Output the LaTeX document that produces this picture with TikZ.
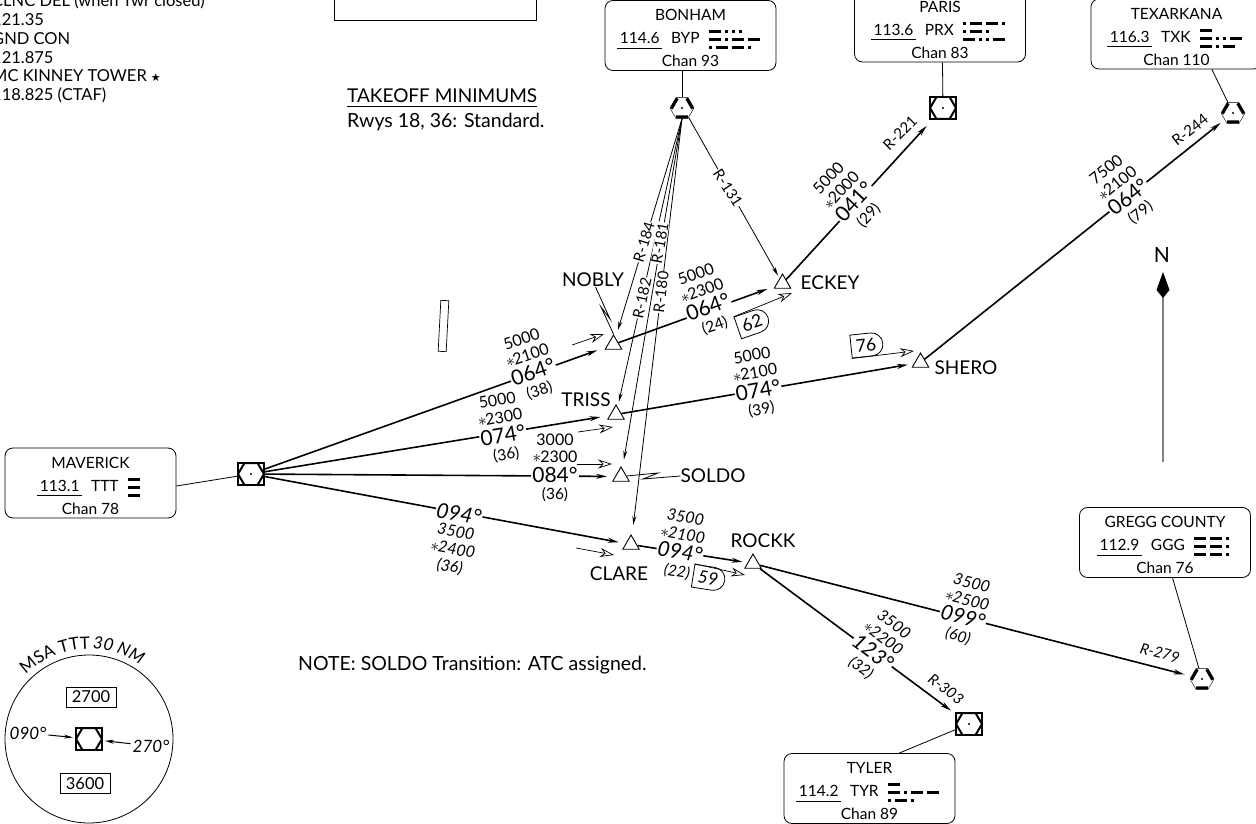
\documentclass[tikz,border=0pt]{standalone}
\usepackage{fontspec}
\setmainfont{Lato}
\newfontfamily\symfont{DejaVu Sans}
\usetikzlibrary{arrows.meta,shapes.geometric,shapes.misc,decorations.text}

% morse marks for the navaid boxes
\newcommand\dit{\rule{3pt}{3pt}\kern4pt}
\newcommand\dah{\rule{12pt}{3pt}\kern4pt}
\newcommand\morse[3]{\raisebox{-5.5pt}[0pt][0pt]{\vbox{\offinterlineskip\hbox{#1}\vskip5pt\hbox{#2}\vskip5pt\hbox{#3}}}}
\newcommand\freq[1]{\underline{\rule[-2.5pt]{0pt}{1pt}\,#1\,}}
\newcommand\navtext[5]{\rule{0pt}{17pt}#1\\\freq{#2}\hspace{9pt}#3\hspace{9pt}#4\\#5}
\newcommand\st{$\ast$\kern-1pt}
\newcommand\msafont{\fontsize{17}{17}\selectfont}

\tikzset{
    navbox/.style={draw, rounded corners=8pt, minimum width=171pt, minimum height=70pt,
        align=center, inner sep=0pt, line width=.8pt, font=\fontsize{15.5}{23}\selectfont},
    vorbox/.style={draw, fill=white, line width=2pt, minimum width=26pt, minimum height=22pt, inner sep=0pt,
        path picture={\draw[shift={(path picture bounding box.center)}, line width=2pt]
            (-13,0) -- (-6.5,-11) -- (6.5,-11) -- (13,0) -- (6.5,11) -- (-6.5,11) -- cycle;}},
    vorhex/.style={draw, fill=white, regular polygon, regular polygon sides=6, minimum size=24pt, inner sep=0pt,
        path picture={\draw[shift={(path picture bounding box.center)}, line width=6pt]
            (-6,10.4) -- (6,10.4) (-12,0) -- (-6,-10.4) (12,0) -- (6,-10.4);}},
    navdot/.style={circle, fill, inner sep=0pt, minimum size=2.2pt},
    fix/.style={draw, regular polygon, regular polygon sides=3, minimum size=19pt, inner sep=0pt, line width=.9pt},
    fixname/.style={inner sep=0pt, font=\fontsize{19}{22}\selectfont},
    route/.style={line width=1.6pt, -{Stealth[length=11pt,width=5pt]}},
    radial/.style={line width=.8pt, -{Stealth[length=9pt,width=4pt]}},
    leadin/.style={line width=.7pt, -{Stealth[open,length=14pt,width=9pt,fill=white]}},
    leader/.style={line width=.8pt},
    hdgnum/.style={fill=white, inner sep=1pt, outer sep=3pt, font=\fontsize{21}{21}\selectfont},
    altnum/.style={align=center, inner sep=0pt, font=\fontsize{16}{17.5}\selectfont},
    disnum/.style={inner sep=1pt, font=\fontsize{15.5}{16}\selectfont},
    radnum/.style={inner sep=.5pt, font=\fontsize{15}{15}\selectfont},
    ital/.style={execute at begin node=\itshape},
    dist62/.style={draw, fill=white, rounded rectangle, rounded rectangle left arc=none, minimum width=32pt,
        minimum height=23pt, inner sep=0pt, line width=.8pt, font=\fontsize{17.5}{17.5}\selectfont},
    msabox/.style={draw, minimum width=50pt, minimum height=20pt, inner sep=0pt, line width=.8pt, font=\fontsize{16.5}{16.5}\selectfont},
    notetext/.style={anchor=west, inner sep=0pt, font=\fontsize{19.5}{19.5}\selectfont},
}

\begin{document}
\begin{tikzpicture}[x=1pt, y=-1pt]
\useasboundingbox (0,0) rectangle (1256,824);

% navaid boxes and symbols
\node (mavbox) [navbox] at (90.5,483) {\navtext{MAVERICK}{113.1}{TTT}{\morse{\dah}{\dah}{\dah}\hspace{12pt}}{Chan 78}};
\node (bypbox) [navbox] at (690.5,35.5) {\navtext{BONHAM\hspace{8pt}}{114.6}{BYP}{\morse{\dah\dit\dit\dit}{\dah\dit\dah\dah}{\dit\dah\dah\dit}}{Chan 93\hspace{8pt}}};
\node (prxbox) [navbox] at (940,27) {\navtext{PARIS}{113.6}{PRX}{\morse{\dit\dah\dah\dit}{\dit\dah\dit}{\dah\dit\dit\dah}}{Chan 83}};
\node (txkbox) [navbox] at (1176.5,34) {\navtext{TEXARKANA}{116.3}{TXK}{\morse{\dah}{\dah\dit\dit\dah}{\dah\dit\dah}}{Chan 110}};
\node (gggbox) [navbox] at (1165,542.5) {\navtext{GREGG COUNTY}{112.9}{GGG}{\morse{\dah\dah\dit}{\dah\dah\dit}{\dah\dah\dit}}{Chan 76}};
\node (tyrbox) [navbox] at (869.5,788.5) {\navtext{TYLER}{114.2}{TYR}{\morse{\dah}{\dah\dit\dah\dah}{\dit\dah\dit}}{Chan 89}};

\node (ttt) [vorbox] at (251,474) {};
\node (prx) [vorbox] at (943,108) {};
\node (tyr) [vorbox] at (969,724) {};
\node (byp) [vorhex] at (682,108) {};
\node (txk) [vorhex] at (1233,113) {};
\node (ggg) [vorhex] at (1202,679) {};
\foreach \a in {ttt,prx,tyr,byp,txk,ggg}
    \node[navdot] at (\a) {};

\draw[leader] (mavbox.-2.5) -- (ttt);
\draw[leader] (bypbox.south -| byp) -- (byp);
\draw[leader] (prxbox.-86) -- (prx);
\draw[leader] (txkbox.-45) -- (txk);
\draw[leader] (gggbox.-78) -- (ggg);
\draw[leader] (tyrbox.50) -- (tyr);

% fixes
\node (nobly) [fix] at (613.5,344.5) {};
\node (eckey) [fix] at (782.5,283.5) {};
\node (triss) [fix] at (616,414.5) {};
\node (soldo) [fix] at (621,476.5) {};
\node (clare) [fix] at (631,544.5) {};
\node (rockk) [fix] at (753,563.5) {};
\node (shero) [fix] at (920.5,362.5) {};

\node (noblyname) [fixname] at (593,280) {NOBLY};
\node (eckeyname) [fixname] at (830,283) {ECKEY};
\node (trissname) [fixname] at (586,400) {TRISS};
\node (soldoname) [fixname] at (713,476) {SOLDO};
\node (clarename) [fixname] at (619,574) {CLARE};
\node (rockkname) [fixname] at (763,541) {ROCKK};
\node (sheroname) [fixname] at (966,368) {SHERO};

\draw[leader] (noblyname.-70) -- (610,319) -- (601,307) -- (nobly.north);
\draw[leader] (soldoname.west) -- (643,479) -- (658,473) -- (soldo);

% routes
\foreach \a/\b/\s in {ttt/nobly/9, ttt/triss/9, ttt/soldo/8, ttt/clare/7, nobly/eckey/8, triss/shero/6,
    clare/rockk/5, eckey/prx/8, shero/txk/5, rockk/ggg/7, rockk/tyr/5}
    \draw[route, shorten >=\s pt] (\a) -- (\b);

\foreach \b/\s in {nobly/8, triss/5, soldo/9, clare/11}
    \draw[radial, shorten >=\s pt] (byp.south) -- (\b);
\draw[radial, shorten >=3pt] (byp.-55) -- (eckey);

% radial labels
\node (r184) [radnum, fill=white, rotate=73] at (644,242) {R-184};
\node (r182) [radnum, fill=white, rotate=77.6] at (642,298) {R-182};
\node (r181) [radnum, fill=white, rotate=80] at (660,243) {R-181};
\node (r180) [radnum, fill=white, rotate=83] at (661,292) {R-180};
\node (r131) [radnum, fill=white, rotate=-57] at (728,188) {R-131};
\node (r221) [radnum, rotate=45] at (900,133) {R-221};
\node (r244) [radnum, rotate=38] at (1190,130) {R-244};
\node (r279) [radnum, ital, rotate=-14.5] at (1160,653) {R-279};
\node (r303) [radnum, ital, rotate=-37] at (946,689) {R-303};

% altitude stacks
\foreach \nm/\px/\py/\rot/\alta/\altb/\hd/\dis in {
    a/533/372/19/5000/2100/064/38, b/503/435/9.5/5000/2300/074/36, c/555/475/0/3000/2300/084/36,
    j/758/390/10/5000/2100/074/39, k/708/307/20/5000/2300/064/24, h/854/202/47/5000/2000/041/29,
    i/1128/197/38.5/7500/2100/064/79}
{
    \node (hdg\nm) [hdgnum, rotate=\rot] at (\px,\py) {\hd°};
    \node (alt\nm) [altnum, rotate=\rot, anchor=south] at (hdg\nm.north) {\alta\\\st\altb};
    \node (dis\nm) [disnum, rotate=\rot, anchor=north] at (hdg\nm.south) {(\dis)};
}
\foreach \nm/\px/\py/\rot/\alta/\altb/\hd/\dis in {
    e/680/552/-9/3500/2100/094/22, f/963/617/-14.5/3500/2500/099/60, g/873/652/-37/3500/2200/123/32}
{
    \node (hdg\nm) [hdgnum, ital, rotate=\rot] at (\px,\py) {\hd°};
    \node (alt\nm) [altnum, ital, rotate=\rot, anchor=south] at (hdg\nm.north) {\alta\\\st\altb};
    \node (dis\nm) [disnum, ital, rotate=\rot, anchor=north] at (hdg\nm.south) {(\dis)};
}
\node (hdgd) [hdgnum, ital, rotate=-10] at (459,514) {094°};
\node (altd) [altnum, ital, rotate=-10, anchor=north] at (hdgd.south) {3500\\\st2400\\(36)};

% lead-in arrows
\node (p62) [dist62, rotate=19] at (752,323) {62};
\node (p76) [dist62, rotate=6] at (866,345) {76};
\node (p59) [dist62, ital, rotate=-9] at (708,578) {59};
\coordinate (tip62) at (792,293);
\coordinate (tip76) at (914,351);
\coordinate (tip59) at (745,575);
\draw[leadin] (p62.north west) -- (tip62);
\draw[leadin] (p76.south west) -- (tip76);
\draw[leadin] (p59.north west) -- (tip59);
\foreach \u/\v/\p/\q in {572/345/604/334, 578/432/613/427, 577/464/612/464, 576/548/614/555}
{
    \coordinate (from) at (\u,\v);
    \coordinate (to) at (\p,\q);
    \draw[leadin] (from) -- (to);
}

% runway, north arrow
\node (rwy) [draw, minimum width=8pt, minimum height=51pt, inner sep=0pt, rotate=-3, line width=.7pt] at (443.5,326) {};
\node (north) [inner sep=0pt, font=\fontsize{21}{21}\selectfont] at (1162,255) {N};
\coordinate (ntail) at (1163,462);
\coordinate (nhead) at (1163,296);
\draw[gray, line width=1.3pt] (ntail) -- (nhead);
\fill (1163,272) -- (1169.5,290) -- (1163,298) -- (1156.5,290) -- cycle;

% notes
\node (comms) [align=left, anchor=north west, inner sep=0pt, font=\fontsize{16.5}{18.7}\selectfont] at (-8,-6)
    {CLNC DEL (when Twr closed)\\121.35\\GND CON\\121.875\\MC KINNEY TOWER {\symfont\fontsize{11}{11}\selectfont ★}\\118.825 (CTAF)};
\node (topbox) [draw, minimum width=202pt, minimum height=30pt, inner sep=0pt, line width=.8pt] at (435,5) {};
\node (tkoff) [notetext, font=\fontsize{19}{19}\selectfont] at (347,98) {\underline{\rule[-2pt]{0pt}{1pt}TAKEOFF MINIMUMS}};
\node (rwys) [notetext] at (347,122) {Rwys 18, 36: Standard.};
\node (note) [notetext] at (298,665) {NOTE: SOLDO Transition: ATC assigned.};

% MSA circle
\node (msa) [draw, circle, minimum size=168pt, inner sep=0pt, line width=.8pt] at (89,739) {};
\node (msa2700) [msabox] at (91,697) {2700};
\node (msa3600) [msabox] at (85,783.5) {3600};
\node (msavor) [vorbox] at (89,739) {};
\node (m090) [ital, inner sep=0pt, font=\msafont] at (28,733) {090°};
\node (m270) [ital, inner sep=0pt, font=\msafont] at (151,746) {270°};
\draw[radial, line width=1pt, shorten >=2pt, shorten <=2pt] (m090) -- (msavor);
\draw[radial, line width=1pt, shorten >=2pt, shorten <=2pt] (m270) -- (msavor);
\path[decorate, decoration={text along path, text align=center,
    text={|\msafont|MSA TTT|| |\msafont\itshape|30 NM}}]
    (89,739) ++(155:90pt) arc[start angle=155, end angle=35, radius=90pt];
\end{tikzpicture}
\end{document}
